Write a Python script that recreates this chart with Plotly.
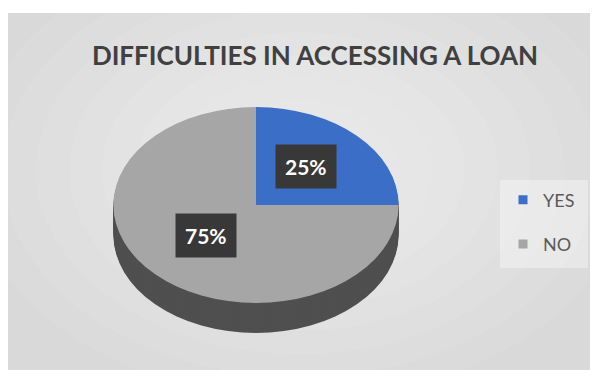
import math
import plotly.graph_objects as go

# ---- data ----
categories = ["YES", "NO"]
values = [25, 75]
slice_colors = ["#3b6fc7", "#a6a6a6"]
title_text = "DIFFICULTIES IN ACCESSING A LOAN"

# ---- layout constants (pixels) ----
W, H = 595, 370
CX, CY = 256, 205          # centre of top face (px from left/top)
R = 98                     # vertical radius of top face
SX = 1.455                 # horizontal stretch to make an ellipse
DEPTH = 30
DEPTH_COLOR = "#4f4f4f"

def dom(cx, cy, r):
    return dict(x=[(cx - r) / W, (cx + r) / W],
                y=[(H - cy - r) / H, (H - cy + r) / H])

fig = go.Figure()

# depth (side of the 3-D pie)
for d in range(DEPTH, 0, -2):
    fig.add_trace(go.Pie(
        labels=categories, values=values, sort=False, direction="clockwise",
        rotation=0, marker=dict(colors=[DEPTH_COLOR] * len(values), line=dict(width=0)),
        textinfo="none", hoverinfo="skip", showlegend=False,
        domain=dom(CX, CY + d, R)))

# top face
fig.add_trace(go.Pie(
    labels=categories, values=values, sort=False, direction="clockwise",
    rotation=0, marker=dict(colors=slice_colors, line=dict(width=0)),
    textinfo="none", showlegend=False, domain=dom(CX, CY, R)))

# legend entries
for cat, col in zip(categories, slice_colors):
    fig.add_trace(go.Scatter(
        x=[None], y=[None], mode="markers", name=cat, legendgroup=cat,
        marker=dict(symbol="square", size=9, color=col)))

# data labels at mid-angle of each slice
total = sum(values)
cum = 0
annotations = []
for v in values:
    mid = (cum + v / 2) / total * 2 * math.pi
    cum += v
    px = CX + 0.5 * R * SX * math.sin(mid)
    py = CY - 4 - 0.5 * R * math.cos(mid)
    annotations.append(dict(
        x=px / W, y=(H - py) / H, xref="paper", yref="paper",
        text=f"<b>{round(v / total * 100)}%</b>", showarrow=False,
        font=dict(family="Lato", size=21, color="white"),
        bgcolor="#383838", borderpad=9))

# background: base panel + soft radial highlight
shapes = [dict(type="rect", xref="paper", yref="paper", layer="below",
               x0=8 / W, x1=590 / W, y0=0, y1=(H - 13) / H,
               fillcolor="#d9d9d9", line=dict(width=0))]
for k in range(9):
    f = 1 - k * 0.1
    hx, hy = 330 * f, 230 * f
    shapes.append(dict(type="circle", xref="paper", yref="paper", layer="below",
                       x0=(300 - hx) / W, x1=(300 + hx) / W,
                       y0=(H - 170 - hy) / H, y1=(H - 170 + hy) / H,
                       fillcolor="rgba(255,255,255,0.07)", line=dict(width=0)))
# legend panel
shapes.append(dict(type="rect", xref="paper", yref="paper", layer="below",
                   x0=500 / W, x1=588 / W, y0=(H - 268) / H, y1=(H - 180) / H,
                   fillcolor="rgba(255,255,255,0.35)", line=dict(width=0)))

fig.update_layout(
    width=W, height=H, autosize=False,
    margin=dict(l=0, r=0, t=0, b=0),
    paper_bgcolor="white", plot_bgcolor="rgba(0,0,0,0)",
    xaxis=dict(visible=False), yaxis=dict(visible=False),
    title=dict(text=f"<b>{title_text}</b>", x=315 / W, xanchor="center",
               y=1 - 56 / H, yanchor="middle",
               font=dict(family="Lato", size=26, color="#404040")),
    legend=dict(x=503 / W, xanchor="left", y=(H - 222) / H, yanchor="middle",
                font=dict(family="Lato", size=18, color="#595959"),
                bgcolor="rgba(0,0,0,0)", traceorder="grouped",
                tracegroupgap=18, itemclick=False),
    shapes=shapes,
    annotations=annotations,
)

post = f"""
document.body.style.margin = '0';
var gd = document.getElementById('{{plot_id}}');
var layer = gd.querySelector('.pielayer');
if (layer) {{
  layer.setAttribute('transform', 'matrix({SX},0,0,1,{-(SX - 1) * CX},0)');
}}
"""

fig.write_html("out.html", config={"displayModeBar": False}, post_script=post)
